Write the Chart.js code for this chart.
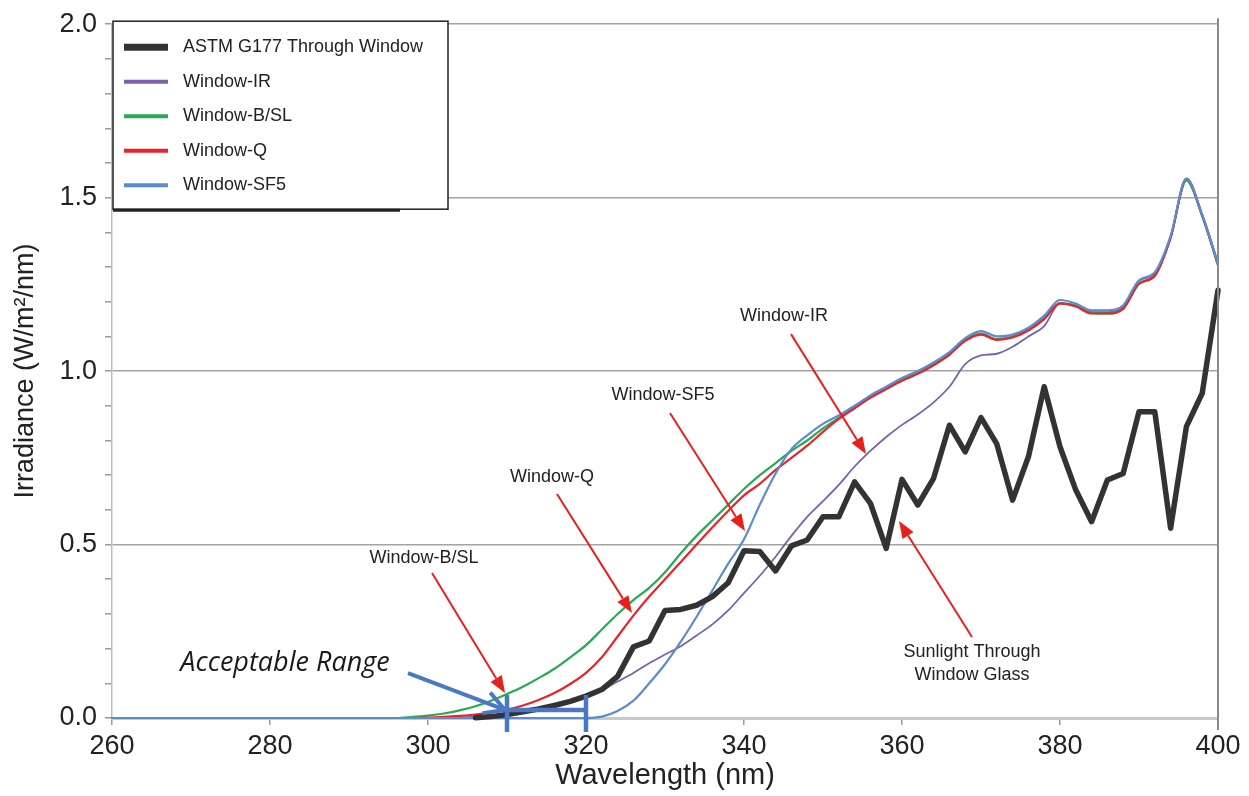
<!DOCTYPE html>
<html>
<head>
<meta charset="utf-8">
<script src="https://cdn.jsdelivr.net/npm/chart.js@4.4.1/dist/chart.umd.min.js"></script>
<style>
  body { margin: 0; background: #fff; }
  #wrap { width: 1249px; height: 796px; }
</style>
</head>
<body>
<div id="wrap"><canvas id="irrChart" width="1249" height="796"></canvas></div>
<script>
// wavelength (nm) shared by every series
const wavelengths = [260, 280, 296, 298, 300, 302, 304, 306, 308, 310, 312, 314, 316, 318, 320, 322, 324, 326, 328, 330,
  332, 334, 336, 338, 340, 342, 344, 346, 348, 350, 352, 354, 356, 358, 360, 362, 364, 366, 368, 370,
  372, 374, 376, 378, 380, 382, 384, 386, 388, 390, 392, 394, 396, 398, 400];

// irradiance, W/m2/nm  (null = no reference data drawn there)
const astmG177 = [null, null, null, null, null, null, null, 0.001, 0.004, 0.01, 0.018, 0.026, 0.036, 0.048, 0.063, 0.082, 0.12, 0.205, 0.222, 0.31,
  0.313, 0.325, 0.35, 0.39, 0.482, 0.48, 0.424, 0.496, 0.513, 0.58, 0.58, 0.681, 0.619, 0.489, 0.688, 0.614, 0.691, 0.844, 0.767, 0.866,
  0.79, 0.628, 0.753, 0.955, 0.782, 0.657, 0.566, 0.686, 0.705, 0.883, 0.883, 0.547, 0.84, 0.936, 1.233];
const windowIR = [0, 0, 0, 0, 0, 0.001, 0.002, 0.004, 0.007, 0.011, 0.017, 0.025, 0.035, 0.048, 0.062, 0.08, 0.105, 0.13, 0.158, 0.183,
  0.207, 0.238, 0.27, 0.31, 0.36, 0.41, 0.465, 0.525, 0.58, 0.625, 0.672, 0.725, 0.77, 0.81, 0.845, 0.875, 0.91, 0.955, 1.02, 1.045,
  1.05, 1.07, 1.1, 1.13, 1.195, 1.19, 1.17, 1.17, 1.185, 1.26, 1.28, 1.385, 1.55, 1.445, 1.305];
const windowBSL = [0, 0, 0, 0.003, 0.007, 0.013, 0.022, 0.034, 0.05, 0.069, 0.09, 0.115, 0.142, 0.175, 0.21, 0.255, 0.3, 0.34, 0.375, 0.42,
  0.475, 0.525, 0.57, 0.615, 0.66, 0.7, 0.735, 0.77, 0.8, 0.835, 0.865, 0.895, 0.925, 0.95, 0.975, 0.995, 1.02, 1.05, 1.09, 1.108,
  1.092, 1.1, 1.12, 1.152, 1.195, 1.188, 1.168, 1.166, 1.18, 1.252, 1.275, 1.385, 1.55, 1.448, 1.305];
const windowQ = [0, 0, 0, 0, 0.001, 0.003, 0.006, 0.01, 0.016, 0.024, 0.036, 0.052, 0.072, 0.098, 0.13, 0.175, 0.235, 0.295, 0.35, 0.4,
  0.45, 0.5, 0.55, 0.597, 0.642, 0.675, 0.715, 0.75, 0.785, 0.825, 0.862, 0.893, 0.923, 0.948, 0.972, 0.992, 1.017, 1.047, 1.087, 1.105,
  1.09, 1.097, 1.117, 1.15, 1.195, 1.186, 1.166, 1.166, 1.18, 1.252, 1.275, 1.385, 1.555, 1.45, 1.31];
const windowSF5 = [0, 0, 0, 0, 0, 0, 0, 0, 0, 0, 0, 0, 0, 0, 0, 0.004, 0.02, 0.05, 0.1, 0.155,
  0.22, 0.292, 0.368, 0.445, 0.515, 0.615, 0.705, 0.775, 0.815, 0.848, 0.872, 0.9, 0.93, 0.955, 0.98, 1.0, 1.025, 1.055, 1.095, 1.115,
  1.1, 1.105, 1.125, 1.16, 1.205, 1.195, 1.175, 1.175, 1.19, 1.262, 1.285, 1.39, 1.555, 1.45, 1.31];

const xTicks = [260, 280, 300, 320, 340, 360, 380, 400];

// callouts, placed in data units (nm, W/m2/nm)
const callouts = [
  { text: ['Window-IR'], at: [345.06, 1.1585], from: [345.95, 1.1066], to: [355.44, 0.7608] },
  { text: ['Window-SF5'], at: [329.75, 0.9308], from: [330.63, 0.879], to: [340.13, 0.5389] },
  { text: ['Window-Q'], at: [315.7, 0.6945], from: [316.33, 0.6455], to: [325.82, 0.3026] },
  { text: ['Window-B/SL'], at: [299.5, 0.4611], from: [300.51, 0.4179], to: [309.75, 0.072] },
  { text: ['Sunlight Through', 'Window Glass'], at: [368.86, 0.157], from: [368.86, 0.2334], to: [359.62, 0.5677] }
];

const pts = vals => wavelengths.map((w, i) => ({ x: w, y: vals[i] }));
const sans = '"Liberation Sans", Arial, sans-serif';

function arrow(ctx, x1, y1, x2, y2, color, width, headLen, headW, open) {
  const ang = Math.atan2(y2 - y1, x2 - x1);
  const bx = x2 - headLen * Math.cos(ang), by = y2 - headLen * Math.sin(ang);
  const nx = -Math.sin(ang) * headW / 2, ny = Math.cos(ang) * headW / 2;
  ctx.strokeStyle = color; ctx.fillStyle = color; ctx.lineWidth = width;
  ctx.beginPath();
  ctx.moveTo(x1, y1);
  ctx.lineTo(open ? x2 : bx, open ? y2 : by);
  ctx.stroke();
  ctx.beginPath();
  if (open) {
    ctx.moveTo(bx + nx, by + ny); ctx.lineTo(x2, y2); ctx.lineTo(bx - nx, by - ny);
    ctx.stroke();
  } else {
    ctx.moveTo(x2, y2); ctx.lineTo(bx + nx, by + ny); ctx.lineTo(bx - nx, by - ny);
    ctx.closePath(); ctx.fill();
  }
}

const notesPlugin = {
  id: 'notes',
  afterDatasetsDraw(chart) {
    const { ctx, scales: { x, y }, chartArea: ca } = chart;
    ctx.save();
    // right frame line
    ctx.strokeStyle = '#8a8a8a'; ctx.lineWidth = 2;
    ctx.beginPath(); ctx.moveTo(ca.right, ca.top - 6); ctx.lineTo(ca.right, ca.bottom + 12); ctx.stroke();

    ctx.font = '18px ' + sans;
    ctx.textAlign = 'center'; ctx.textBaseline = 'middle';
    callouts.forEach(c => {
      const cx = x.getPixelForValue(c.at[0]), cy = y.getPixelForValue(c.at[1]);
      c.text.forEach((t, i) => {
        ctx.fillStyle = '#222';
        ctx.fillText(t, cx, cy + (i - (c.text.length - 1) / 2) * 23);
      });
      arrow(ctx, x.getPixelForValue(c.from[0]), y.getPixelForValue(c.from[1]),
        x.getPixelForValue(c.to[0]), y.getPixelForValue(c.to[1]), '#e8201c', 2, 17, 13, false);
    });

    // acceptable range marker
    const blue = '#4a78c2';
    ctx.font = 'italic 27px "Open Sans", sans-serif';
    ctx.fillStyle = '#1a1a1a';
    ctx.fillText('Acceptable Range', x.getPixelForValue(281.9), y.getPixelForValue(0.1585));
    arrow(ctx, x.getPixelForValue(297.47), y.getPixelForValue(0.1297),
      x.getPixelForValue(309.75), y.getPixelForValue(0.0231), blue, 4, 20, 22, true);
    const xl = x.getPixelForValue(310), xr = x.getPixelForValue(320);
    const yt = y.getPixelForValue(0.066), yb = y.getPixelForValue(-0.04), ym = y.getPixelForValue(0.023);
    ctx.strokeStyle = blue; ctx.lineWidth = 4.5;
    ctx.beginPath();
    ctx.moveTo(xl, yt); ctx.lineTo(xl, yb);
    ctx.moveTo(xr, yt); ctx.lineTo(xr, yb);
    ctx.moveTo(xl, ym); ctx.lineTo(xr, ym);
    ctx.stroke();
    ctx.restore();
  },
  afterDraw(chart) {
    // legend box in the upper left of the plot
    const { ctx, chartArea: ca } = chart;
    const bx = ca.left + 1, by = ca.top - 3, bw = 335, bh = 188;
    ctx.save();
    ctx.fillStyle = '#fff';
    ctx.fillRect(bx, by, bw, bh);
    ctx.strokeStyle = '#222'; ctx.lineWidth = 1.5;
    ctx.strokeRect(bx, by, bw, bh);
    ctx.lineWidth = 3;
    ctx.beginPath(); ctx.moveTo(bx, by + bh + 1); ctx.lineTo(bx + 287, by + bh + 1); ctx.stroke();
    ctx.font = '18px ' + sans;
    ctx.textAlign = 'left'; ctx.textBaseline = 'middle';
    const legendOrder = [0, 4, 3, 2, 1];
    legendOrder.forEach((di, row) => {
      const ds = chart.data.datasets[di];
      const ly = by + 26 + row * 34.5;
      ctx.strokeStyle = ds.borderColor;
      ctx.lineWidth = di === 0 ? 7 : 4;
      ctx.beginPath(); ctx.moveTo(bx + 11, ly); ctx.lineTo(bx + 55, ly); ctx.stroke();
      ctx.fillStyle = '#222';
      ctx.fillText(ds.label, bx + 70, ly);
    });
    ctx.restore();
  }
};

const isMajor = v => Math.abs(v * 2 - Math.round(v * 2)) < 1e-6;

new Chart(document.getElementById('irrChart'), {
  type: 'line',
  data: {
    datasets: [
      { label: 'ASTM G177 Through Window', data: pts(astmG177), borderColor: '#333333', borderWidth: 5.5, order: 0 },
      { label: 'Window-SF5', data: pts(windowSF5), borderColor: '#5a8ccf', borderWidth: 2.2, order: 1, cubicInterpolationMode: 'monotone' },
      { label: 'Window-Q', data: pts(windowQ), borderColor: '#e8232a', borderWidth: 2.2, order: 2, cubicInterpolationMode: 'monotone' },
      { label: 'Window-B/SL', data: pts(windowBSL), borderColor: '#25aa55', borderWidth: 2.2, order: 3, cubicInterpolationMode: 'monotone' },
      { label: 'Window-IR', data: pts(windowIR), borderColor: '#7b62a8', borderWidth: 1.8, order: 4, cubicInterpolationMode: 'monotone' }
    ]
  },
  options: {
    responsive: false,
    animation: false,
    layout: { padding: { left: 0, right: 31, top: 24, bottom: 0 } },
    elements: { point: { radius: 0 }, line: { borderJoinStyle: 'round', borderCapStyle: 'round' } },
    datasets: { line: { clip: 6, tension: 0, spanGaps: false } },
    plugins: { legend: { display: false }, tooltip: { enabled: false } },
    scales: {
      x: {
        type: 'linear', min: 260, max: 400,
        afterBuildTicks: s => { s.ticks = xTicks.map(v => ({ value: v })); },
        afterFit: s => { s.height = 78; },
        ticks: { color: '#222', font: { family: sans, size: 27 }, padding: 5, maxRotation: 0 },
        grid: { drawOnChartArea: false, tickLength: 7, tickColor: '#999', lineWidth: 1.5 },
        border: { color: '#c9c9c9', width: 3 },
        title: { display: true, text: 'Wavelength (nm)', color: '#222', font: { family: sans, size: 29 }, padding: { top: 0, bottom: 3 } }
      },
      y: {
        min: 0, max: 2,
        afterFit: s => { s.width = 112; },
        ticks: {
          stepSize: 0.1, autoSkip: false, color: '#222', font: { family: sans, size: 27 }, padding: 8,
          callback: v => isMajor(v) ? v.toFixed(1) : ''
        },
        grid: {
          color: c => (c.tick && isMajor(c.tick.value) && c.tick.value > 0) ? '#a3a3a3' : 'rgba(0,0,0,0)',
          tickColor: '#9a9a9a', tickLength: 7, lineWidth: 1.5
        },
        border: { color: '#bdbdbd', width: 1.5 },
        title: { display: true, text: 'Irradiance (W/m²/nm)', color: '#222', font: { family: sans, size: 27 }, padding: { top: 9, bottom: 0 } }
      }
    }
  },
  plugins: [notesPlugin]
});
</script>
</body>
</html>
